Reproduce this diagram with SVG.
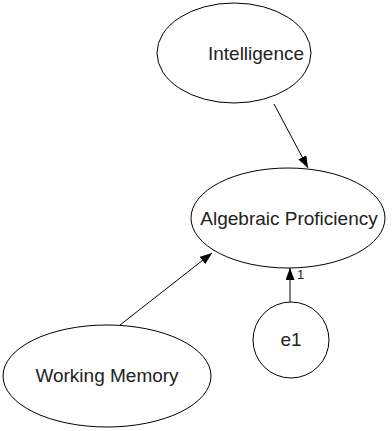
<svg xmlns="http://www.w3.org/2000/svg" width="392" height="431" viewBox="0 0 392 431">
<style>
.node{fill:#fff;stroke:#000;stroke-width:1}
.lbl{font-family:"Liberation Sans",Arial,sans-serif;font-size:19px;fill:#222;text-anchor:middle}
.edge{stroke:#000;stroke-width:1;fill:none}
.small{font-family:"Liberation Sans",Arial,sans-serif;font-size:13px;fill:#222}
</style>
<defs>
<marker id="ah" markerUnits="userSpaceOnUse" markerWidth="13" markerHeight="10" refX="12" refY="4.5" orient="auto">
<path d="M0,0 L12,4.5 L0,9 Z" fill="#000"/>
</marker>
</defs>
<rect width="392" height="431" fill="#fff"/>
<g id="connectors">
<line class="edge" x1="274" y1="104" x2="308" y2="168" marker-end="url(#ah)"/>
<line class="edge" x1="120" y1="325" x2="212" y2="253" marker-end="url(#ah)"/>
<line class="edge" x1="290" y1="302" x2="290" y2="268" marker-end="url(#ah)"/>
<text class="small" x="297" y="279">1</text>
</g>
<g id="intelligence">
<ellipse class="node" cx="234" cy="53" rx="77" ry="50"/>
<text class="lbl" x="256" y="60">Intelligence</text>
</g>
<g id="algebraic">
<ellipse class="node" cx="288" cy="218" rx="97" ry="50"/>
<text class="lbl" x="289" y="225">Algebraic Proficiency</text>
</g>
<g id="working">
<ellipse class="node" cx="107" cy="376" rx="104" ry="51"/>
<text class="lbl" x="107" y="382">Working Memory</text>
</g>
<g id="e1">
<circle class="node" cx="291" cy="340" r="38"/>
<text class="lbl" x="291" y="346">e1</text>
</g>
</svg>
